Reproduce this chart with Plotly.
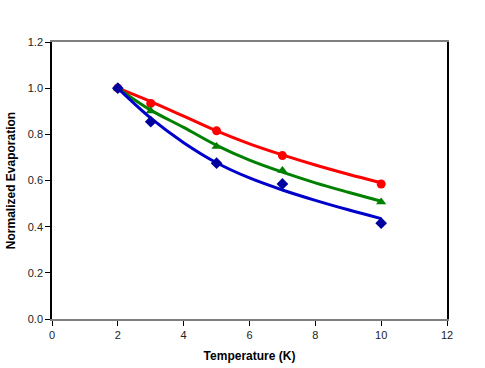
import plotly.graph_objects as go

# measured points
temp_pts = [2, 3, 5, 7, 10]
red_pts = [1.0, 0.934, 0.815, 0.708, 0.585]
green_pts = [1.0, 0.901, 0.747, 0.643, 0.507]
blue_pts = [1.0, 0.855, 0.675, 0.585, 0.415]

# fitted curves
temp_fit = [2, 3, 4, 5, 6, 7, 8, 9, 10]
red_fit = [1.0, 0.942, 0.879, 0.815, 0.759, 0.711, 0.667, 0.627, 0.59]
green_fit = [1.0, 0.905, 0.83, 0.752, 0.688, 0.636, 0.59, 0.549, 0.51]
blue_fit = [1.0, 0.87, 0.764, 0.677, 0.611, 0.559, 0.514, 0.473, 0.435]

x_ticks = [0, 2, 4, 6, 8, 10, 12]
y_ticks = [0.0, 0.2, 0.4, 0.6, 0.8, 1.0, 1.2]

fig = go.Figure()

series = [
    (red_fit, red_pts, '#FF0000', '#FF0000', 'circle', 9),
    (green_fit, green_pts, '#008000', '#008000', 'triangle-up', 9),
    (blue_fit, blue_pts, '#0000CC', '#0000A0', 'diamond', 9),
]
for fit, pts, lc, mc, sym, ms in series:
    fig.add_trace(go.Scatter(x=temp_fit, y=fit, mode='lines', line=dict(color=lc, width=3, shape='spline', smoothing=1),
                             showlegend=False, hoverinfo='skip'))
    fig.add_trace(go.Scatter(x=temp_pts, y=pts, mode='markers', marker=dict(color=mc, symbol=sym, size=ms),
                             showlegend=False))

fig.update_layout(
    width=485, height=368,
    margin=dict(l=52, r=38, t=42, b=49),
    paper_bgcolor='white', plot_bgcolor='white',
    font=dict(family='Liberation Sans, Arial, sans-serif', color='#222222', size=11),
    xaxis=dict(range=[0, 12], tickvals=x_ticks, ticktext=[str(v) for v in x_ticks], automargin=False,
               showgrid=False, zeroline=False, showline=True, linecolor='#7F7F7F', linewidth=1.5,
               mirror=True, ticks='outside', ticklen=5, tickcolor='#000000',
               title=dict(text='<b>Temperature (K)</b>', font=dict(size=12, color='#000000'), standoff=12)),
    yaxis=dict(range=[0, 1.2], tickvals=y_ticks, ticktext=['%.1f' % v for v in y_ticks], automargin=False,
               showgrid=False, zeroline=False, showline=True, linecolor='#000000', linewidth=1.5,
               mirror=True, ticks='outside', ticklen=5, tickcolor='#000000',
               title=dict(text='<b>Normalized Evaporation</b>', font=dict(size=12, color='#000000'), standoff=10)),
)

# drop the default page margin so the figure sits at the window's corner
fig.write_html("out.html", config={'displayModeBar': False},
               post_script="document.body.style.margin='0';")
